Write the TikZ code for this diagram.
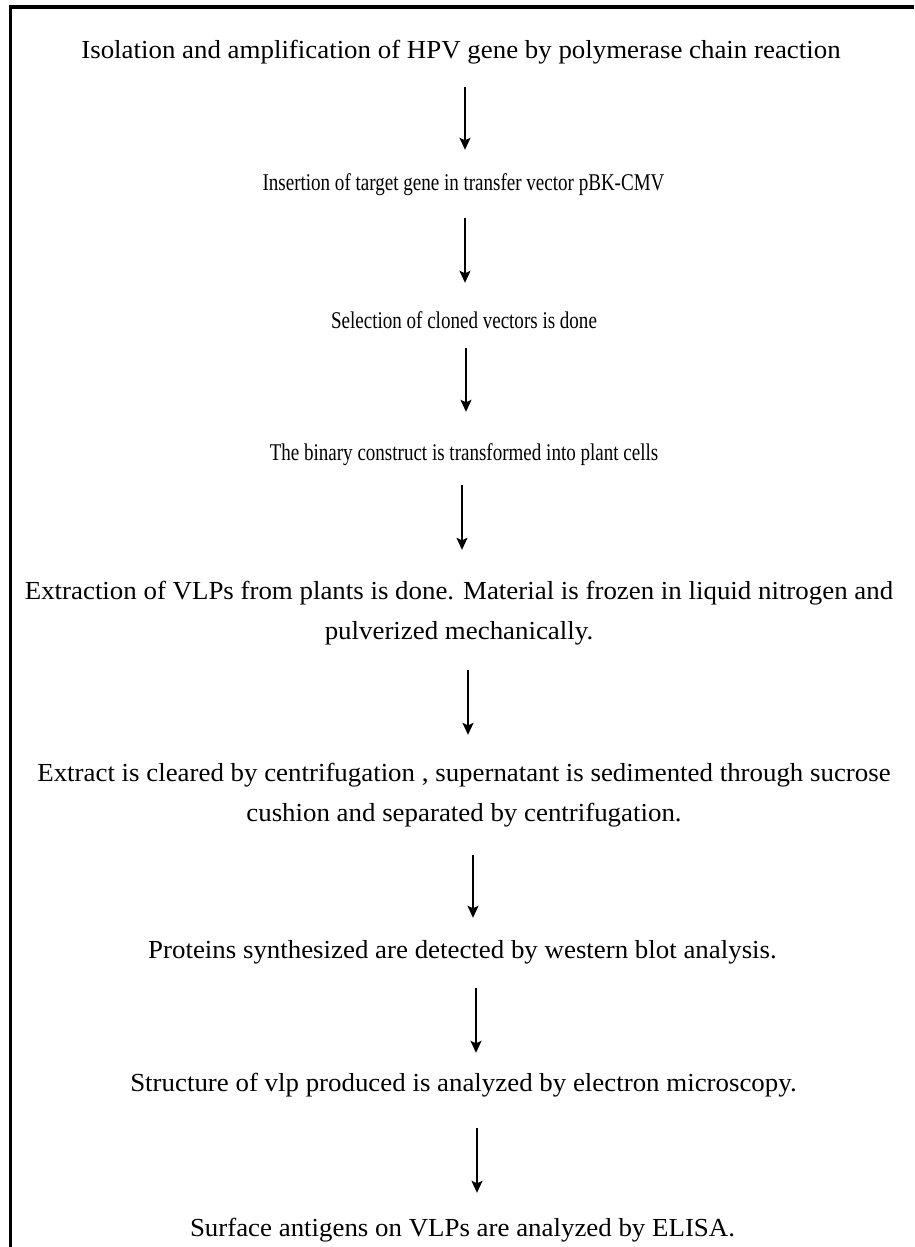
\documentclass[tikz,border=0pt]{standalone}
\usepackage{fontspec}
\setmainfont{Liberation Serif}
\newfontfamily\wideserif[FakeStretch=1.034]{Liberation Serif}
\newfontfamily\narrowserif[FakeStretch=0.793]{Liberation Serif}
\usetikzlibrary{arrows.meta}

\begin{document}
\begin{tikzpicture}[
    x=1pt, y=-1pt,
    every node/.style={font=\fontsize{26}{40}\selectfont\wideserif, align=center, inner sep=0pt},
    oneline/.style={text height=19pt, text depth=6pt},
    narrow/.style={oneline, font=\fontsize{24}{40}\selectfont\narrowserif},
    flow/.style={-{Stealth[length=12pt,width=11pt,inset=2.5pt]}, line width=1.5pt}
]

\useasboundingbox (0,0) rectangle (914,1247);

% Frame
\draw[line width=3.5pt] (10.5,1247) -- (10.5,7) -- (914,7);

% Steps
\node[oneline] (pcr) at (461,52) {Isolation and amplification of HPV gene by polymerase chain reaction};
\node[narrow] (insert) at (463.5,184) {Insertion of target gene in transfer vector pBK-CMV};
\node[narrow] (select) at (464,322) {Selection of cloned vectors is done};
\node[narrow] (transform) at (464,454) {The binary construct is transformed into plant cells};
\node (extract) at (459,613) {Extraction of VLPs from plants is done. Material is frozen in liquid nitrogen and\\ pulverized mechanically.};
\node (clear) at (464,795) {Extract is cleared by centrifugation , supernatant is sedimented through sucrose\\ cushion and separated by centrifugation.};
\node[oneline] (western) at (462.5,952) {Proteins synthesized are detected by western blot analysis.};
\node[oneline] (micro) at (463.5,1085) {Structure of vlp produced is analyzed by electron microscopy.};
\node[oneline] (elisa) at (462.5,1230) {Surface antigens on VLPs are analyzed by ELISA.};

% Arrows
\draw[flow] ([xshift=4pt,yshift=-22.5pt]pcr.south) -- ([xshift=1.5pt,yshift=21.5pt]insert.north);
\draw[flow] ([xshift=1.5pt,yshift=-21.5pt]insert.south) -- ([xshift=1pt,yshift=26.5pt]select.north);
\draw[flow] ([xshift=2pt,yshift=-13.5pt]select.south) -- ([xshift=2pt,yshift=29.5pt]transform.north);
\draw[flow] ([xshift=-2pt,yshift=-18.5pt]transform.south) -- ([xshift=3pt,yshift=31pt]extract.north);
\draw[flow] ([xshift=9pt,yshift=-25pt]extract.south) -- ([xshift=4pt,yshift=28pt]clear.north);
\draw[flow] ([xshift=9pt,yshift=-28pt]clear.south) -- ([xshift=10.5pt,yshift=21.5pt]western.north);
\draw[flow] ([xshift=13.5pt,yshift=-23.5pt]western.south) -- ([xshift=12.5pt,yshift=19.5pt]micro.north);
\draw[flow] ([xshift=13.5pt,yshift=-30.5pt]micro.south) -- ([xshift=14.5pt,yshift=24.5pt]elisa.north);

\end{tikzpicture}
\end{document}
